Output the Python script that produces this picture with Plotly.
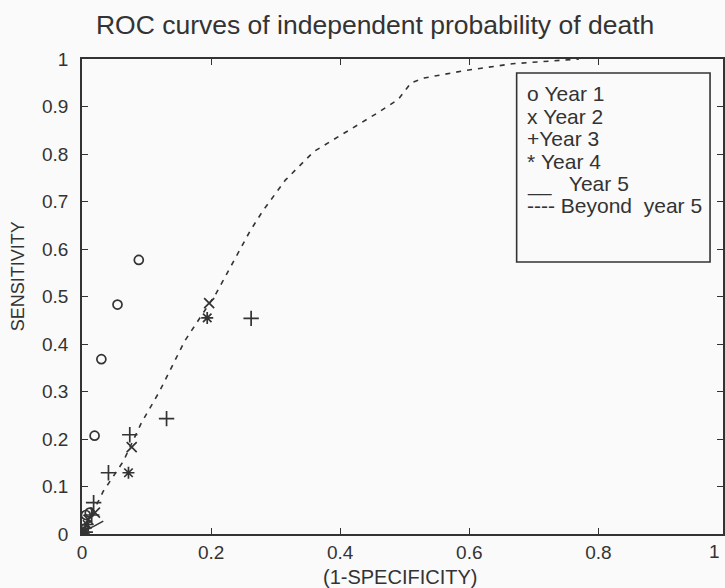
import plotly.graph_objects as go

# ---- data ----
year1_x = [0.0, 0.003, 0.006, 0.012, 0.0195, 0.030, 0.055, 0.088]
year1_y = [0.0, 0.010, 0.040, 0.045, 0.207, 0.368, 0.483, 0.577]

year2_x = [0.0, 0.004, 0.010, 0.020, 0.077, 0.197]
year2_y = [0.0, 0.006, 0.030, 0.045, 0.183, 0.486]

year3_x = [0.0, 0.005, 0.015, 0.018, 0.041, 0.074, 0.131, 0.262]
year3_y = [0.0, 0.004, 0.040, 0.066, 0.129, 0.209, 0.243, 0.454]

year4_x = [0.0, 0.003, 0.008, 0.072, 0.194]
year4_y = [0.0, 0.003, 0.020, 0.129, 0.455]

year5_x = [0.0, 0.006, 0.018, 0.033]
year5_y = [0.0, 0.008, 0.016, 0.027]

beyond_x = [0.0, 0.033, 0.064, 0.092, 0.12, 0.159, 0.208, 0.26, 0.28, 0.315,
            0.359, 0.41, 0.456, 0.49, 0.51, 0.53, 0.59, 0.667, 0.77]
beyond_y = [0.0, 0.09, 0.153, 0.234, 0.30, 0.406, 0.507, 0.637, 0.68, 0.745,
            0.805, 0.847, 0.885, 0.915, 0.95, 0.96, 0.975, 0.99, 1.0]

legend_lines = ["o&nbsp;Year 1", "x&nbsp;Year 2", "+Year 3", "*&nbsp;Year 4",
                "__&nbsp;&nbsp;&nbsp;Year 5", "----&nbsp;Beyond&nbsp;&nbsp;year 5"]

x_ticks = [0, 0.2, 0.4, 0.6, 0.8]
y_ticks = [0, 0.1, 0.2, 0.3, 0.4, 0.5, 0.6, 0.7, 0.8, 0.9, 1.0]

INK = "#333333"
FONT = "Liberation Sans, Arial, Helvetica, sans-serif"

fig = go.Figure()

fig.add_trace(go.Scatter(x=beyond_x, y=beyond_y, mode="lines", name="Beyond year 5",
                         line=dict(color=INK, width=1.6, dash="5px,6px")))
fig.add_trace(go.Scatter(x=year5_x, y=year5_y, mode="lines", name="Year 5",
                         line=dict(color=INK, width=1.5)))
fig.add_trace(go.Scatter(x=year1_x, y=year1_y, mode="markers", name="Year 1",
                         marker=dict(symbol="circle-open", size=9, color=INK,
                                     line=dict(width=1.7, color=INK))))
fig.add_trace(go.Scatter(x=year2_x, y=year2_y, mode="markers", name="Year 2",
                         marker=dict(symbol="x-thin-open", size=10, color=INK,
                                     line=dict(width=1.7, color=INK))))
fig.add_trace(go.Scatter(x=year3_x, y=year3_y, mode="markers", name="Year 3",
                         marker=dict(symbol="cross-thin-open", size=11, color=INK,
                                     line=dict(width=1.7, color=INK))))
fig.add_trace(go.Scatter(x=year4_x, y=year4_y, mode="markers", name="Year 4",
                         marker=dict(symbol="asterisk-open", size=10, color=INK,
                                     line=dict(width=1.7, color=INK))))

L, T, B = 82, 59, 54
W, H = 725, 588
PW, PH = W - L, H - T - B

def px(xp):
    return (xp - L) / PW

def py(yp):
    return (H - B - yp) / PH

shapes = [dict(type="rect", xref="paper", yref="paper",
               x0=px(518), x1=px(712), y0=py(262), y1=py(73),
               line=dict(color=INK, width=1.6), fillcolor="rgba(0,0,0,0)")]

annotations = []
line_y = [93, 116, 138.5, 161.5, 183.5, 205.5]
for txt, yy in zip(legend_lines, line_y):
    annotations.append(dict(text=txt, xref="paper", yref="paper", x=px(526), y=py(yy),
                            xanchor="left", yanchor="middle", showarrow=False,
                            font=dict(size=21, color=INK, family=FONT)))

annotations.append(dict(text="(1-SPECIFICITY)", xref="paper", yref="paper",
                        x=px(401), y=py(577), xanchor="center", yanchor="middle",
                        showarrow=False, font=dict(size=20, color=INK, family=FONT)))
annotations.append(dict(text="SENSITIVITY", xref="paper", yref="paper",
                        x=px(18), y=py(276), xanchor="center", yanchor="middle",
                        textangle=-90, showarrow=False,
                        font=dict(size=18, color=INK, family=FONT)))
annotations.append(dict(text="1", xref="paper", yref="paper",
                        x=px(716), y=py(551), xanchor="center", yanchor="middle",
                        showarrow=False, font=dict(size=19, color=INK, family=FONT)))

fig.update_layout(
    width=W, height=H,
    margin=dict(l=L, r=0, t=T, b=B, pad=0),
    paper_bgcolor="#fafafa", plot_bgcolor="#fafafa",
    showlegend=False,
    title=dict(text="ROC curves of independent probability of death",
               x=px(376), xref="paper", xanchor="center",
               y=1 - 25 / H, yref="container", yanchor="middle",
               font=dict(size=26.5, color=INK, family=FONT)),
    shapes=shapes, annotations=annotations,
    font=dict(family=FONT, color=INK),
)

fig.update_xaxes(range=[0, PW / 647.5], tickvals=x_ticks,
                 ticktext=["0", "0.2", "0.4", "0.6", "0.8"],
                 ticks="inside", ticklen=6, tickwidth=1.4, tickcolor=INK,
                 showline=True, linecolor=INK, linewidth=1.6, mirror="allticks",
                 showgrid=False, zeroline=False,
                 tickfont=dict(size=19, color=INK, family=FONT))
fig.update_yaxes(range=[0, 1], tickvals=y_ticks,
                 ticktext=["0", "0.1", "0.2", "0.3", "0.4", "0.5", "0.6", "0.7", "0.8", "0.9", "1"],
                 ticks="inside", ticklen=6, tickwidth=1.4, tickcolor=INK,
                 ticklabelstandoff=8,
                 showline=True, linecolor=INK, linewidth=1.6, mirror="allticks",
                 showgrid=False, zeroline=False,
                 tickfont=dict(size=19, color=INK, family=FONT))

fig.write_html("out.html")
